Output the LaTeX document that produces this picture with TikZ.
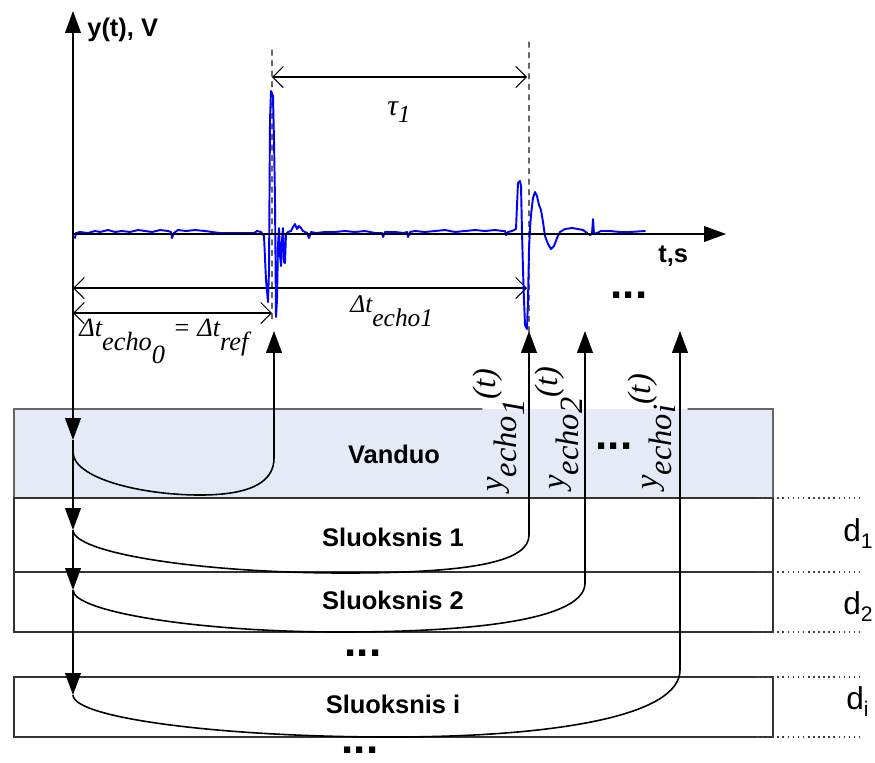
\documentclass[tikz,border=0pt]{standalone}
\usepackage{fontspec}
\setmainfont{Liberation Sans}
\newfontfamily\tms{Liberation Serif}
\usetikzlibrary{arrows.meta}
\usepackage{xcolor}
\definecolor{water}{RGB}{229,235,246}
\definecolor{trace}{RGB}{0,0,255}
\newcommand\lowr[2][0.5em]{\raisebox{-#1}{#2}}

\begin{document}
\begin{tikzpicture}[x=0.02cm,y=-0.02cm,>={Triangle[length=12.5pt,width=9pt]},line cap=round,
  every node/.style={inner sep=0pt},
  lay/.style={font=\bfseries\fontsize{14.5}{17}\selectfont},
  dots/.style={font=\bfseries\fontsize{25}{25}\selectfont},
  tm/.style={font=\tms\itshape\fontsize{14.5}{16}\selectfont,anchor=base west},
  ylab/.style={font=\tms\itshape\fontsize{18.5}{20}\selectfont,rotate=90,anchor=base west},
  dlab/.style={font=\fontsize{18}{20}\selectfont,anchor=base west},
  dimline/.style={{Straight Barb[length=6pt,width=12pt]}-{Straight Barb[length=6pt,width=12pt]},line width=0.6pt},
  ret/.style={->,line width=0.9pt,line cap=butt},
  down/.style={->,line width=0.8pt,line cap=butt},
  guide/.style={dashed,gray!80!black,line width=0.6pt},
  tick/.style={dotted,black!75,line width=0.9pt,line cap=butt}]
\useasboundingbox (0,0) rectangle (875,762);

\fill[water] (14,409) rectangle (773,498);
\draw[gray!80!black,line width=0.7pt] (482,409) -- (14,409) -- (14,498) -- (773,498) -- (773,409) -- (688,409);
\draw[black!80,line width=0.7pt] (14,498) rectangle (773,572);
\draw[black!80,line width=0.7pt] (14,572) rectangle (773,632);
\draw[black!80,line width=0.7pt] (14,677) rectangle (773,737);
\foreach \yy in {498,572,632,677,737}
  \draw[tick] (757,\yy) -- (860,\yy);

\coordinate (O) at (73,234);
\coordinate (ytip) at (73,11);
\coordinate (xtip) at (726,234);
\coordinate (w0) at (73,440);
\coordinate (w1) at (73,530);
\coordinate (w2) at (73,590);
\coordinate (wi) at (73,695);
\coordinate (r0) at (274,331);
\coordinate (r1) at (529,331);
\coordinate (r2) at (585,331);
\coordinate (ri) at (680,331);

\draw[guide] (272,50) -- (272,322);
\draw[guide] (529,42) -- (529,334);
\draw[dimline] (272,77) -- (527,77);
\draw[dimline] (73,288) -- (527,288);
\draw[dimline] (73,313) -- (272,313);

\draw[trace,line width=1.1pt,line join=round] plot coordinates {
 (75,238) (76,233) (80,232) (88,233) (95,231) (100,232) (108,230) (115,232) (122,231)
 (130,232) (138,230) (145,231) (152,232) (160,230) (168,231) (171,232) (172,238) (174,233)
 (178,230) (186,231) (195,230) (205,231) (212,232) (220,233) (232,233) (245,233) (254,233)
 (257,231) (261,232) (264,236) (266,280) (268,302) (269,270) (270,120) (271,91) (273,96)
 (274,140) (275,200) (276,317) (277,300) (278,245) (279,228) (280,255) (281,266) (282,240)
 (283,228) (284,262) (285,263) (286,234) (288,232) (291,231) (293,227) (295,224) (297,229)
 (299,226) (301,228) (303,231) (307,233) (309,238) (311,232) (316,233) (325,232) (335,232)
 (345,231) (355,232) (365,231) (375,233) (382,233) (383,237) (385,232) (395,232) (404,233)
 (407,232) (408,237) (410,232) (415,231) (425,232) (435,231) (445,230) (455,232) (465,231)
 (475,230) (485,231) (495,230) (503,231) (505,231) (506,235) (508,232) (512,231) (516,229)
 (517,205) (518,183) (520,181) (521,186) (522,232) (523,270) (524,300) (525,325) (527,329)
 (528,300) (529,250) (530,228) (531,215) (533,198) (535,192) (537,196) (539,205) (541,210)
 (543,222) (545,236) (548,244) (551,249) (554,246) (557,238) (560,232) (565,229) (572,228)
 (578,229) (583,230) (587,233) (590,235) (592,234) (593,219) (594,234) (597,233) (601,231)
 (610,231) (620,232) (630,232) (645,231)};

\draw[->,line width=0.6pt,line cap=butt] (O) -- (ytip);
\draw[->,line width=0.6pt,line cap=butt] (O) -- (xtip);
\draw[down] (O) -- (w0);
\draw[down] (w0) -- (w1);
\draw[down] (w1) -- (w2);
\draw[down] (w2) -- (wi);

\draw[ret] (w0) -- (73,452) .. controls (73,478) and (140,495) .. (200,495)
  .. controls (258,495) and (274,478) .. (274,458) -- (r0);
\draw[ret] (w1) .. controls (73,553) and (200,573) .. (345,573)
  .. controls (480,573) and (529,560) .. (529,535) -- (r1);
\draw[ret] (w2) .. controls (73,612) and (200,632) .. (340,632)
  .. controls (500,632) and (585,615) .. (585,583) -- (r2);
\draw[ret] (wi) .. controls (73,718) and (220,737) .. (390,737)
  .. controls (560,737) and (680,715) .. (680,670) -- (ri);

\node[lay,anchor=base west] (ylbl) at (87,36) {y(t), V};
\node[lay,anchor=base west] (xlbl) at (658,262) {t,s};
\node[tm,font=\tms\itshape\fontsize{17}{19}\selectfont] (tau) at (387,115) {τ\lowr[0.25em]{\fontsize{14}{16}\selectfont 1}};
\node[tm] (dte1) at (350,312) {Δt\lowr[0.55em]{echo1}};
\node[tm,font=\tms\itshape\fontsize{15}{17}\selectfont] (dte0) at (79,336) {Δt\lowr[0.55em]{echo\lowr[0.5em]{0}}\hspace{0.3em}=\hspace{0.25em}Δt\lowr[0.55em]{ref}};

\node[ylab] (y1) at (502,492) {y\lowr[0.45em]{echo\lowr[0.25em]{1}}\raisebox{0.2em}{(t)}};
\node[ylab] (y2) at (564,490) {y\lowr[0.45em]{echo\lowr[0.12em]{2}}\raisebox{0.2em}{(t)}};
\node[ylab] (yi) at (657,490) {y\lowr[0.45em]{echo\lowr[0.12em]{\itshape i}}\raisebox{0.2em}{(t)}};

\node[lay,anchor=base] (vand) at (394,463) {Vanduo};
\node[lay,anchor=base] (s1) at (393,546) {Sluoksnis 1};
\node[lay,anchor=base] (s2) at (393,609) {Sluoksnis 2};
\node[lay,anchor=base] (si) at (393,713) {Sluoksnis i};

\node[dots] (dd0) at (629,295) {...};
\node[dots] (dd1) at (614,446) {...};
\node[dots] (dd2) at (363,653) {...};
\node[dots] (dd3) at (360,750) {...};

\node[dlab] (d1) at (843,541) {d\lowr[0.25em]{\fontsize{12}{14}\selectfont 1}};
\node[dlab] (d2) at (843,614) {d\lowr[0.25em]{\fontsize{12}{14}\selectfont 2}};
\node[dlab] (di) at (846,709) {d\lowr[0.25em]{\fontsize{12}{14}\selectfont i}};
\end{tikzpicture}
\end{document}
